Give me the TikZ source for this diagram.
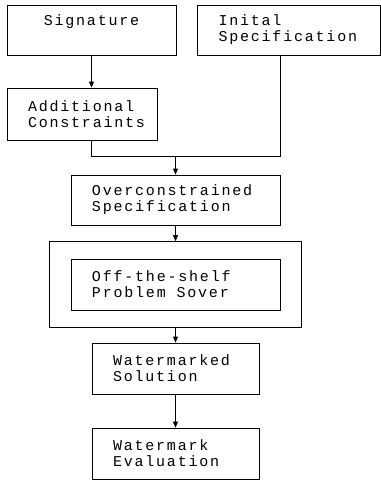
\documentclass[tikz,border=0pt]{standalone}
\usepackage{fontspec}
\newfontfamily\stagefont[LetterSpace=12]{Liberation Mono}
\usepackage{tikz}
\usetikzlibrary{arrows.meta}
\usetikzlibrary{fit}
\usetikzlibrary{positioning}

\newcommand{\wgap}{\hspace{0.72em}}

\tikzset{
  stage/.style={draw, line width=0.8pt, rectangle, align=left, inner xsep=21pt,
    minimum height=51pt, font=\stagefont\fontsize{15pt}{16pt}\selectfont},
  flow/.style={line width=0.8pt, -{Triangle[length=6pt,width=5pt]}},
  link/.style={line width=0.8pt}
}

\begin{document}
\begin{tikzpicture}[x=1pt,y=1pt]

	\useasboundingbox (0,0) rectangle (381,-483);

	% top row
	\node[stage, text width=127pt, align=center, minimum height=50pt] (sig) at (91.5,-30) {Signature\\ \strut};
	\node[stage, text width=141pt, minimum height=50pt] (initspec) at (289,-30) {Inital\\Specification};
	\node[stage, text width=108pt, minimum height=52pt] (addcons) at (82,-114) {Additional\\Constraints};

	% main column
	\node[stage, text width=167pt, minimum height=50pt] (overcons) at (175.5,-200) {Overconstrained\\Specification};
	\node[stage, text width=167pt] (solver) at (175.5,-284.5) {Off-the-shelf\\Problem\wgap Sover};
	\node[draw, line width=0.8pt, inner xsep=21pt, inner ysep=17pt, fit=(solver)] (solverframe) {};
	\node[stage, text width=125pt] (wmsol) at (175.5,-368.5) {Watermarked\\Solution};
	\node[stage, text width=125pt] (wmeval) at (175.5,-453.5) {Watermark\\Evaluation};

	\coordinate (merge) at ([yshift=18pt]overcons.north);

	\draw[flow] (sig) -- (addcons.north -| sig.south);
	\draw[link] (sig.south |- addcons.south) |- (merge) -| (overcons.east |- initspec.south);
	\draw[flow] (merge) -- (overcons);
	\draw[flow] (overcons) -- (solverframe);
	\draw[flow] (solverframe) -- (wmsol);
	\draw[flow] (wmsol) -- (wmeval);

\end{tikzpicture}
\end{document}
